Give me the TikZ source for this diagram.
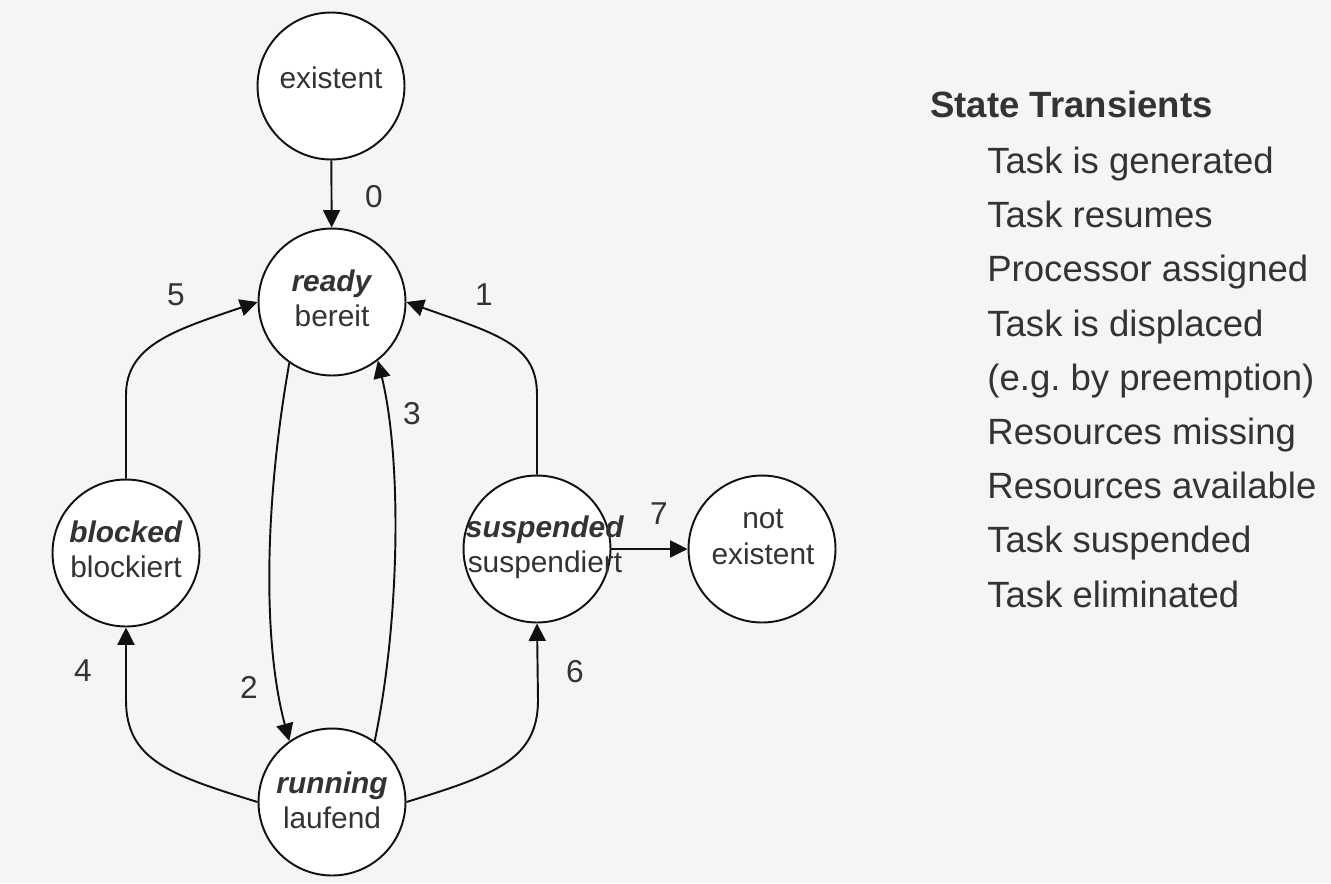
\documentclass[tikz,border=0pt]{standalone}
\usepackage{fontspec}
\setmainfont{Liberation Sans}
\usepackage{tikz}
\usetikzlibrary{arrows.meta}
\frenchspacing
\definecolor{cBg}{HTML}{F5F5F5}
\definecolor{cTx}{HTML}{333333}
\definecolor{cLn}{HTML}{111111}
\tikzset{
  state/.style={circle,draw=cLn,line width=1.1pt,fill=white,
                minimum size=2.94cm,inner sep=0pt},
  stxt/.style={align=center,text=cTx,font=\fontsize{17}{20}\selectfont},
  num/.style={text=cTx,font=\fontsize{18}{20}\selectfont},
  trans/.style={-{Triangle[length=3.5mm,width=3.4mm]},line width=1.1pt,cLn},
  legend/.style={anchor=base west,inner sep=0pt,text=cTx,
                 font=\fontsize{20.8}{25}\selectfont},
}

\begin{document}
\begin{tikzpicture}[x=0.02cm,y=0.02cm]
  \fill[cBg] (0,0) rectangle (1331,-883);
  \useasboundingbox (0,0) rectangle (1331,-883);
  % states
  \node[state] (ex)   at (331,-86)  {};
  \node[state] (rdy)  at (332,-302) {};
  \node[state] (blk)  at (126,-553) {};
  \node[state] (run)  at (332,-802) {};
  \node[state] (susp) at (537,-549) {};
  \node[state] (nex)  at (762,-549) {};
  \node[stxt] (ext)   at (331,-78)  {existent};
  \node[stxt] (rdyt)  at (332,-298) {\textbf{\textit{ready}}\\bereit};
  \node[stxt] (blkt)  at (126,-549) {\textbf{\textit{blocked}}\\blockiert};
  \node[stxt] (runt)  at (332,-800) {\textbf{\textit{running}}\\laufend};
  \node[stxt] (suspt) at (545,-547) {\textbf{\textit{suspended}}\\suspendiert};
  \node[stxt] (next)  at (763,-537) {not\\existent};
  % transitions
  \draw[trans] (ex) -- (rdy);
  \draw[trans] (blk.north) -- (126,-395) .. controls (126,-345) and (175,-330) .. (rdy.west);
  \draw[trans] (susp.north) -- (537,-395) .. controls (537,-345) and (500,-335) .. (rdy.east);
  \draw[trans] (rdy.235) .. controls (265,-500) and (262,-640) .. (run.125);
  \draw[trans] (run.55) .. controls (400,-620) and (402,-460) .. (rdy.-52);
  \draw[trans] (run.west) .. controls (170,-775) and (126,-760) .. (126,-700) -- (blk.south);
  \draw[trans] (run.east) .. controls (494,-775) and (538,-760) .. (538,-700) -- (susp.south);
  \draw[trans] (susp) -- (nex);
  % transition numbers
  \foreach \n/\x/\y in {0/374/197,1/484/295,2/249/687,3/412/414,
                        4/83/671,5/176/295,6/575/672,7/659/514}
    \node[num] (t\n) at (\x,-\y) {\n};
  % legend
  \node[legend] (lhead) at (930,-117.3) {\textbf{State Transients}};
  \foreach \txt [count=\k from 0] in {Task is generated,Task resumes,
      Processor assigned,Task is displaced,(e.g. by preemption),
      Resources missing,Resources available,Task suspended,Task eliminated}
    \node[legend] (l\k) at (987,-173.5-54.2*\k) {\txt};
\end{tikzpicture}
\end{document}
